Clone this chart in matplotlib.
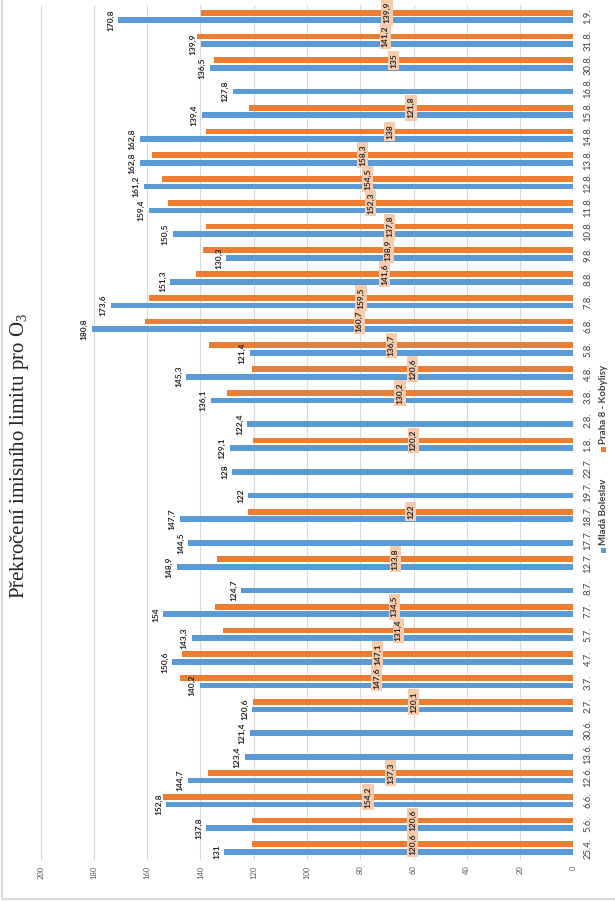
import matplotlib
matplotlib.use('Agg')
import matplotlib.pyplot as plt
import numpy as np
from matplotlib.patches import Rectangle

plt.rcParams['font.family'] = ['Lato', 'DejaVu Sans']
plt.rcParams['mathtext.default'] = 'regular'

dates = ["25.4.", "5.6.", "6.6.", "12.6.", "13.6.", "30.6.", "2.7.", "3.7.", "4.7.", "5.7.",
         "7.7.", "8.7.", "12.7.", "17.7.", "18.7.", "19.7.", "22.7.", "1.8.", "2.8.", "3.8.",
         "4.8.", "5.8.", "6.8.", "7.8.", "8.8.", "9.8.", "10.8.", "11.8.", "12.8.", "13.8.",
         "14.8.", "15.8.", "16.8.", "30.8.", "31.8.", "1.9."]

mlada_boleslav = [131, 137.8, 152.8, 144.7, 123.4, 121.4, 120.6, 140.2, 150.6, 143.3,
                  154, 124.7, 148.9, 144.5, 147.7, 122, 128, 129.1, 122.4, 136.1,
                  145.3, 121.4, 180.8, 173.6, 151.3, 130.3, 150.5, 159.4, 161.2, 162.8,
                  162.8, 139.4, 127.8, 136.5, 139.9, 170.8]

praha_kobylisy = [120.6, 120.6, 154.2, 137.3, None, None, 120.1, 147.6, 147.1, 131.4,
                  134.5, None, 133.8, None, 122, None, None, 120.2, None, 130.2,
                  120.6, 136.7, 160.7, 159.5, 141.6, 138.9, 137.8, 152.3, 154.5, 158.3,
                  138, 121.8, None, 135, 141.2, 139.9]

series_names = ["Mladá Boleslav", "Praha 8 - Kobylisy"]
title = "Překročení imisního limitu pro O$_3$"
x_ticks = list(range(0, 201, 20))

BLUE = "#5B9BD5"
ORANGE = "#ED7D31"
PEACH = "#F8CBAD"
GRID = "#D9D9D9"
TXT = "#595959"

W, H = 615, 901
fig = plt.figure(figsize=(W / 100, H / 100), dpi=100)
fig.patch.set_facecolor("white")

ax = fig.add_axes([40.7 / W, (H - 860) / H, (573.3 - 40.7) / W, (860 - 4.6) / H])

y = np.arange(len(dates))
off = 0.16
bh = 0.24

fmt = lambda v: ("%g" % v).replace(".", ",")

ax.barh(y - off, mlada_boleslav, height=bh, color=BLUE, zorder=2)
py = [yy + off for yy, v in zip(y, praha_kobylisy) if v is not None]
pv = [v for v in praha_kobylisy if v is not None]
ax.barh(py, pv, height=bh, color=ORANGE, zorder=2)

for yy, v in zip(y, mlada_boleslav):
    ax.annotate(fmt(v), xy=(v, yy - off), xytext=(-3, 0), textcoords="offset points",
                ha="right", va="center", rotation=90, fontsize=6, fontweight="bold",
                color="#262626", zorder=4)

for yy, v in zip(py, pv):
    ax.text(v / 2, yy, fmt(v), ha="center", va="center", rotation=90, fontsize=6,
            fontweight="bold", color="#262626", zorder=5,
            bbox=dict(boxstyle="square,pad=0.25", fc=PEACH, ec="none"))

ax.set_xlim(200, 0)
ax.set_ylim(-0.5, len(dates) - 0.5)
ax.set_xticks(x_ticks)
ax.set_xticklabels([str(t) for t in x_ticks], rotation=90, fontsize=5.5, color=TXT)
ax.tick_params(axis="x", length=0, pad=4)
ax.yaxis.tick_right()
ax.set_yticks(y)
ax.set_yticklabels(dates, rotation=90, fontsize=6.8, color="#404040", va="center")
ax.tick_params(axis="y", length=0, pad=7.5)
ax.grid(axis="x", color=GRID, linewidth=0.8, zorder=0)
ax.set_axisbelow(True)
for s in ax.spines.values():
    s.set_visible(False)

# title
fig.text(20 / W, 1 - 456 / H, title, rotation=90, ha="center", va="center",
         fontsize=15, color="#262626", family=["Liberation Serif", "DejaVu Serif"])

# legend (rotated)
lx = 603
for name, col, my, ty in [(series_names[0], BLUE, 550, 545), (series_names[1], ORANGE, 449, 444)]:
    fig.patches.append(Rectangle(((lx - 2.5) / W, 1 - (my + 2.5) / H), 5 / W, 5 / H,
                                 transform=fig.transFigure, fc=col, ec="none"))
    fig.text(lx / W, 1 - ty / H, name, rotation=90, ha="center", va="bottom",
             fontsize=7, fontweight="bold", color="#404040")

# outer border
fig.patches.append(Rectangle((2 / W, 2 / H), 1.0, 1.0, transform=fig.transFigure,
                             fill=False, ec=GRID, lw=1.5))

fig.savefig("out.png", dpi=100)
